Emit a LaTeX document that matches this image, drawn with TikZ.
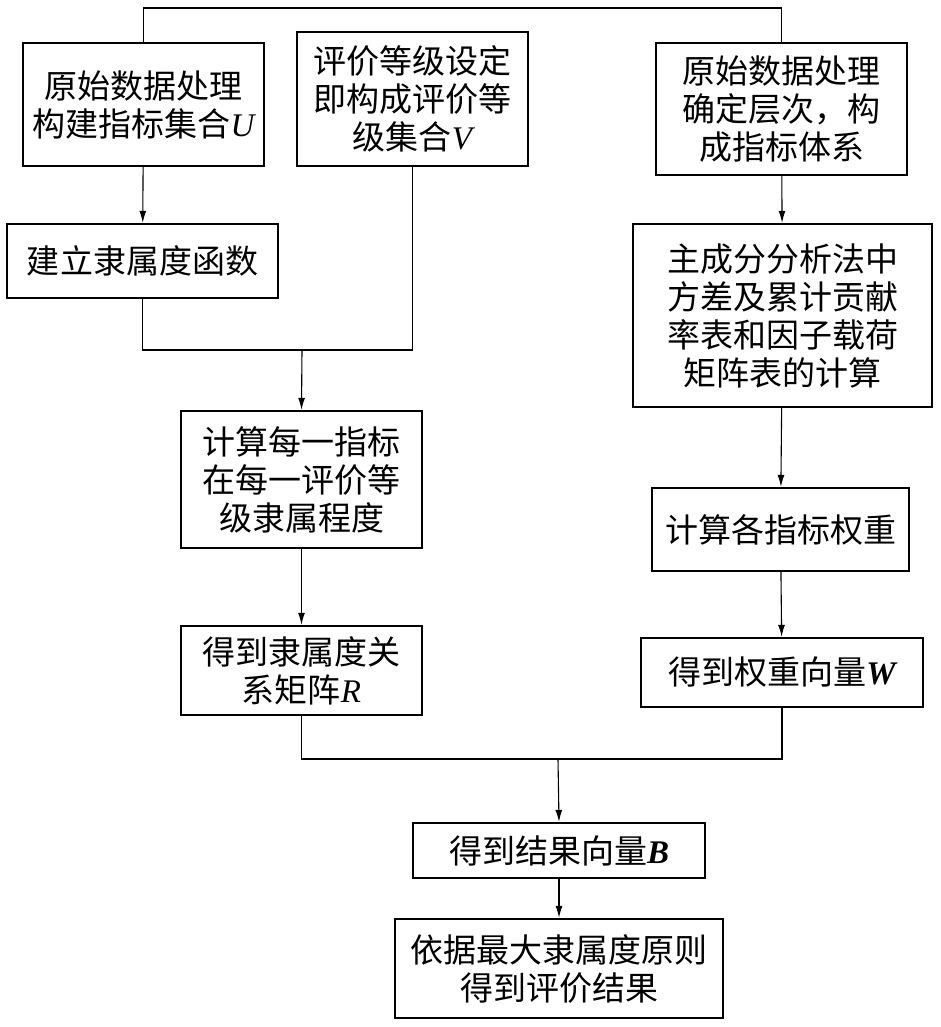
\documentclass[tikz,border=0pt]{standalone}
\usepackage{fontspec}
\setmainfont{Liberation Serif}
\newfontfamily\cjk{Noto Sans CJK SC}
\usetikzlibrary{arrows.meta}
\newcommand{\vi}[1]{{\rmfamily\itshape #1}}
\newcommand{\vb}[1]{{\rmfamily\bfseries\itshape #1}}

\begin{document}
\begin{tikzpicture}[x=1pt, y=-1pt,
	stepbox/.style={draw, line width=2.4pt, inner sep=0pt, align=center,
		font=\cjk\fontsize{33}{38}\selectfont},
	link/.style={line width=1.1pt},
	arr/.style={link, -{Latex[length=12pt, width=7pt]}}]
			%%%%% START %%%%%
			
			\useasboundingbox (0, 0) rectangle (941, 1027);
			
			\node[stepbox, minimum width=241, minimum height=123] (setU) at (143.5, 104.5) {原始数据处理\\构建指标集合\vi{U}};
			\node[stepbox, minimum width=231, minimum height=134] (setV) at (412.5, 99) {评价等级设定\\即构成评价等\\级集合\vi{V}};
			\node[stepbox, minimum width=251, minimum height=132] (index) at (781.5, 109) {原始数据处理\\确定层次，构\\成指标体系};
			
			\node[stepbox, minimum width=271, minimum height=74] (func) at (142.5, 261) {建立隶属度函数};
			\node[stepbox, minimum width=299, minimum height=183] (pca) at (782.5, 315.5) {主成分分析法中\\方差及累计贡献\\率表和因子载荷\\矩阵表的计算};
			
			\node[stepbox, minimum width=241, minimum height=137] (degree) at (301.5, 479.5) {计算每一指标\\在每一评价等\\级隶属程度};
			\node[stepbox, minimum width=257, minimum height=83] (weight) at (780.5, 529.5) {计算各指标权重};
			
			\node[stepbox, minimum width=241, minimum height=89] (matR) at (301.5, 670.5) {得到隶属度关\\系矩阵\vi{R}};
			\node[stepbox, minimum width=282, minimum height=69] (vecW) at (782, 672.5) {得到权重向量\vb{W}};
			
			\node[stepbox, minimum width=292, minimum height=55] (vecB) at (559, 850.5) {得到结果向量\vb{B}};
			\node[stepbox, minimum width=328, minimum height=99] (result) at (559, 968.5) {依据最大隶属度原则\\得到评价结果};
			
			\coordinate (top) at (460, 8);
			\coordinate (joinUV) at (302, 350);
			\coordinate (joinRW) at (558, 759);
			
			\draw[link] (setU.north) |- (top) -| (index.north);
			\draw[arr] (setU) -- (func);
			\draw[arr] (index) -- (pca);
			
			\draw[link] (func.south) |- (joinUV) -| (setV.south);
			\draw[arr] (joinUV) -- (degree.north);
			\draw[arr] (degree) -- (matR);
			\draw[arr] (pca) -- (weight);
			\draw[arr] (weight) -- (vecW);
			
			\draw[link] (matR.south) |- (joinRW) -| (vecW.south);
			\draw[arr] (joinRW) -- (vecB.north);
			\draw[arr] (vecB) -- (result);
			
			%%%%% END %%%%%
\end{tikzpicture}
\end{document}
